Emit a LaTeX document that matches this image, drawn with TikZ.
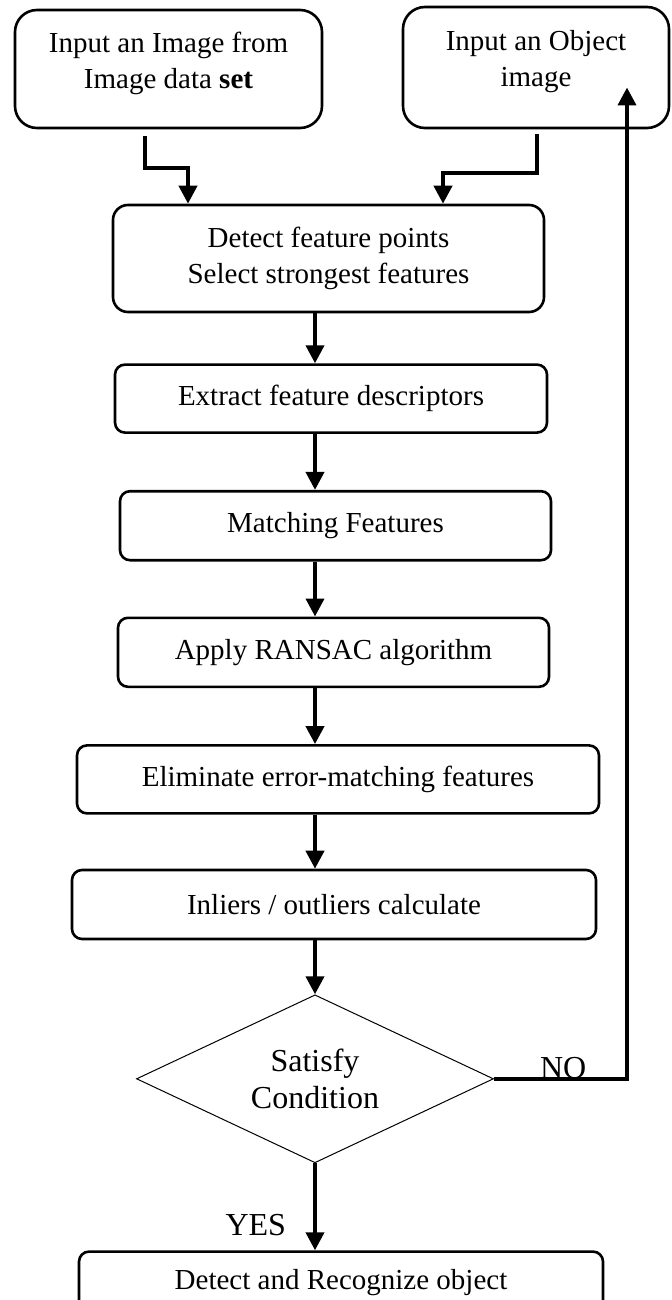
\documentclass[tikz,border=0pt]{standalone}
\usepackage{fontspec}
\setmainfont{Liberation Serif}
\usetikzlibrary{shapes.geometric, arrows.meta, positioning, calc}

\begin{document}
\begin{tikzpicture}[
    x=0.5pt, y=-0.5pt,
    font=\fontsize{14.5}{18}\selectfont,
    block/.style={rectangle, rounded corners=5pt, draw=black, line width=1.3pt, minimum height=34pt, align=center},
    inbox/.style={block, rounded corners=11pt, minimum height=59pt, text depth=9pt},
    decision/.style={diamond, aspect=2, draw=black, line width=0.5pt, minimum width=178.5pt, minimum height=84pt, inner sep=0pt, align=center, font=\fontsize{16}{18.5}\selectfont},
    arrow/.style={line width=2pt, -{Triangle[width=9pt, length=9pt]}},
    tag/.style={inner sep=0pt, font=\fontsize{16}{18}\selectfont}
]
    \useasboundingbox (0,0) rectangle (671,1300);

    \node[inbox, minimum width=153.5pt] (imgset) at (168.5,69) {Input an Image from\\Image data \textbf{set}};
    \node[inbox, minimum width=133pt, minimum height=60.5pt] (objimg) at (536,67.5) {Input an Object\\image};
    \node[block, rounded corners=7.5pt, minimum width=215.5pt, minimum height=53.5pt] (detect) at (328.5,258.5) {Detect feature points\\Select strongest features};
    \node[block, minimum width=216pt, below=25pt of detect, xshift=1.25pt] (extract) {Extract feature descriptors};
    \node[block, minimum width=215.5pt, minimum height=34.5pt, below=28pt of extract, xshift=2.25pt] (match) {Matching Features};
    \node[block, minimum width=215.5pt, minimum height=34.5pt, below=27.5pt of match, xshift=-1pt] (ransac) {Apply RANSAC algorithm};
    \node[block, minimum width=261pt, below=28pt of ransac, xshift=2.25pt] (elim) {Eliminate error-matching features};
    \node[block, minimum width=262pt, minimum height=34.5pt, below=27pt of elim, xshift=-2pt] (inout) {Inliers / outliers calculate};
    \node[decision, below=27pt of inout, xshift=-9.5pt] (cond) {Satisfy\\Condition};
    \node[block, minimum width=262pt, minimum height=31pt, below=43.5pt of cond, xshift=13pt] (recog) {Detect and Recognize object};

    % inputs into the detector
    \draw[arrow] ([shift={(-23.5,7)}]imgset.south) -- ++(0,32) -| ([shift={(-140.5,0)}]detect.north);
    \draw[arrow] ([shift={(1,5)}]objimg.south) -- ++(0,39) -| ([shift={(114.5,0)}]detect.north);

    \foreach \a/\b in {detect/extract, extract/match, match/ransac, ransac/elim, elim/inout, inout/cond}
        \draw[arrow] (\a.south -| cond) -- (\b.north -| cond);

    \draw[arrow] (cond.south) -- node[tag, pos=0.83, anchor=base east, xshift=-13.5pt] {YES} (recog.north -| cond);
    \draw[arrow] (cond.east) -| node[tag, pos=0.26, anchor=base] {NO} ([shift={(91,20)}]objimg.center);

\end{tikzpicture}
\end{document}
